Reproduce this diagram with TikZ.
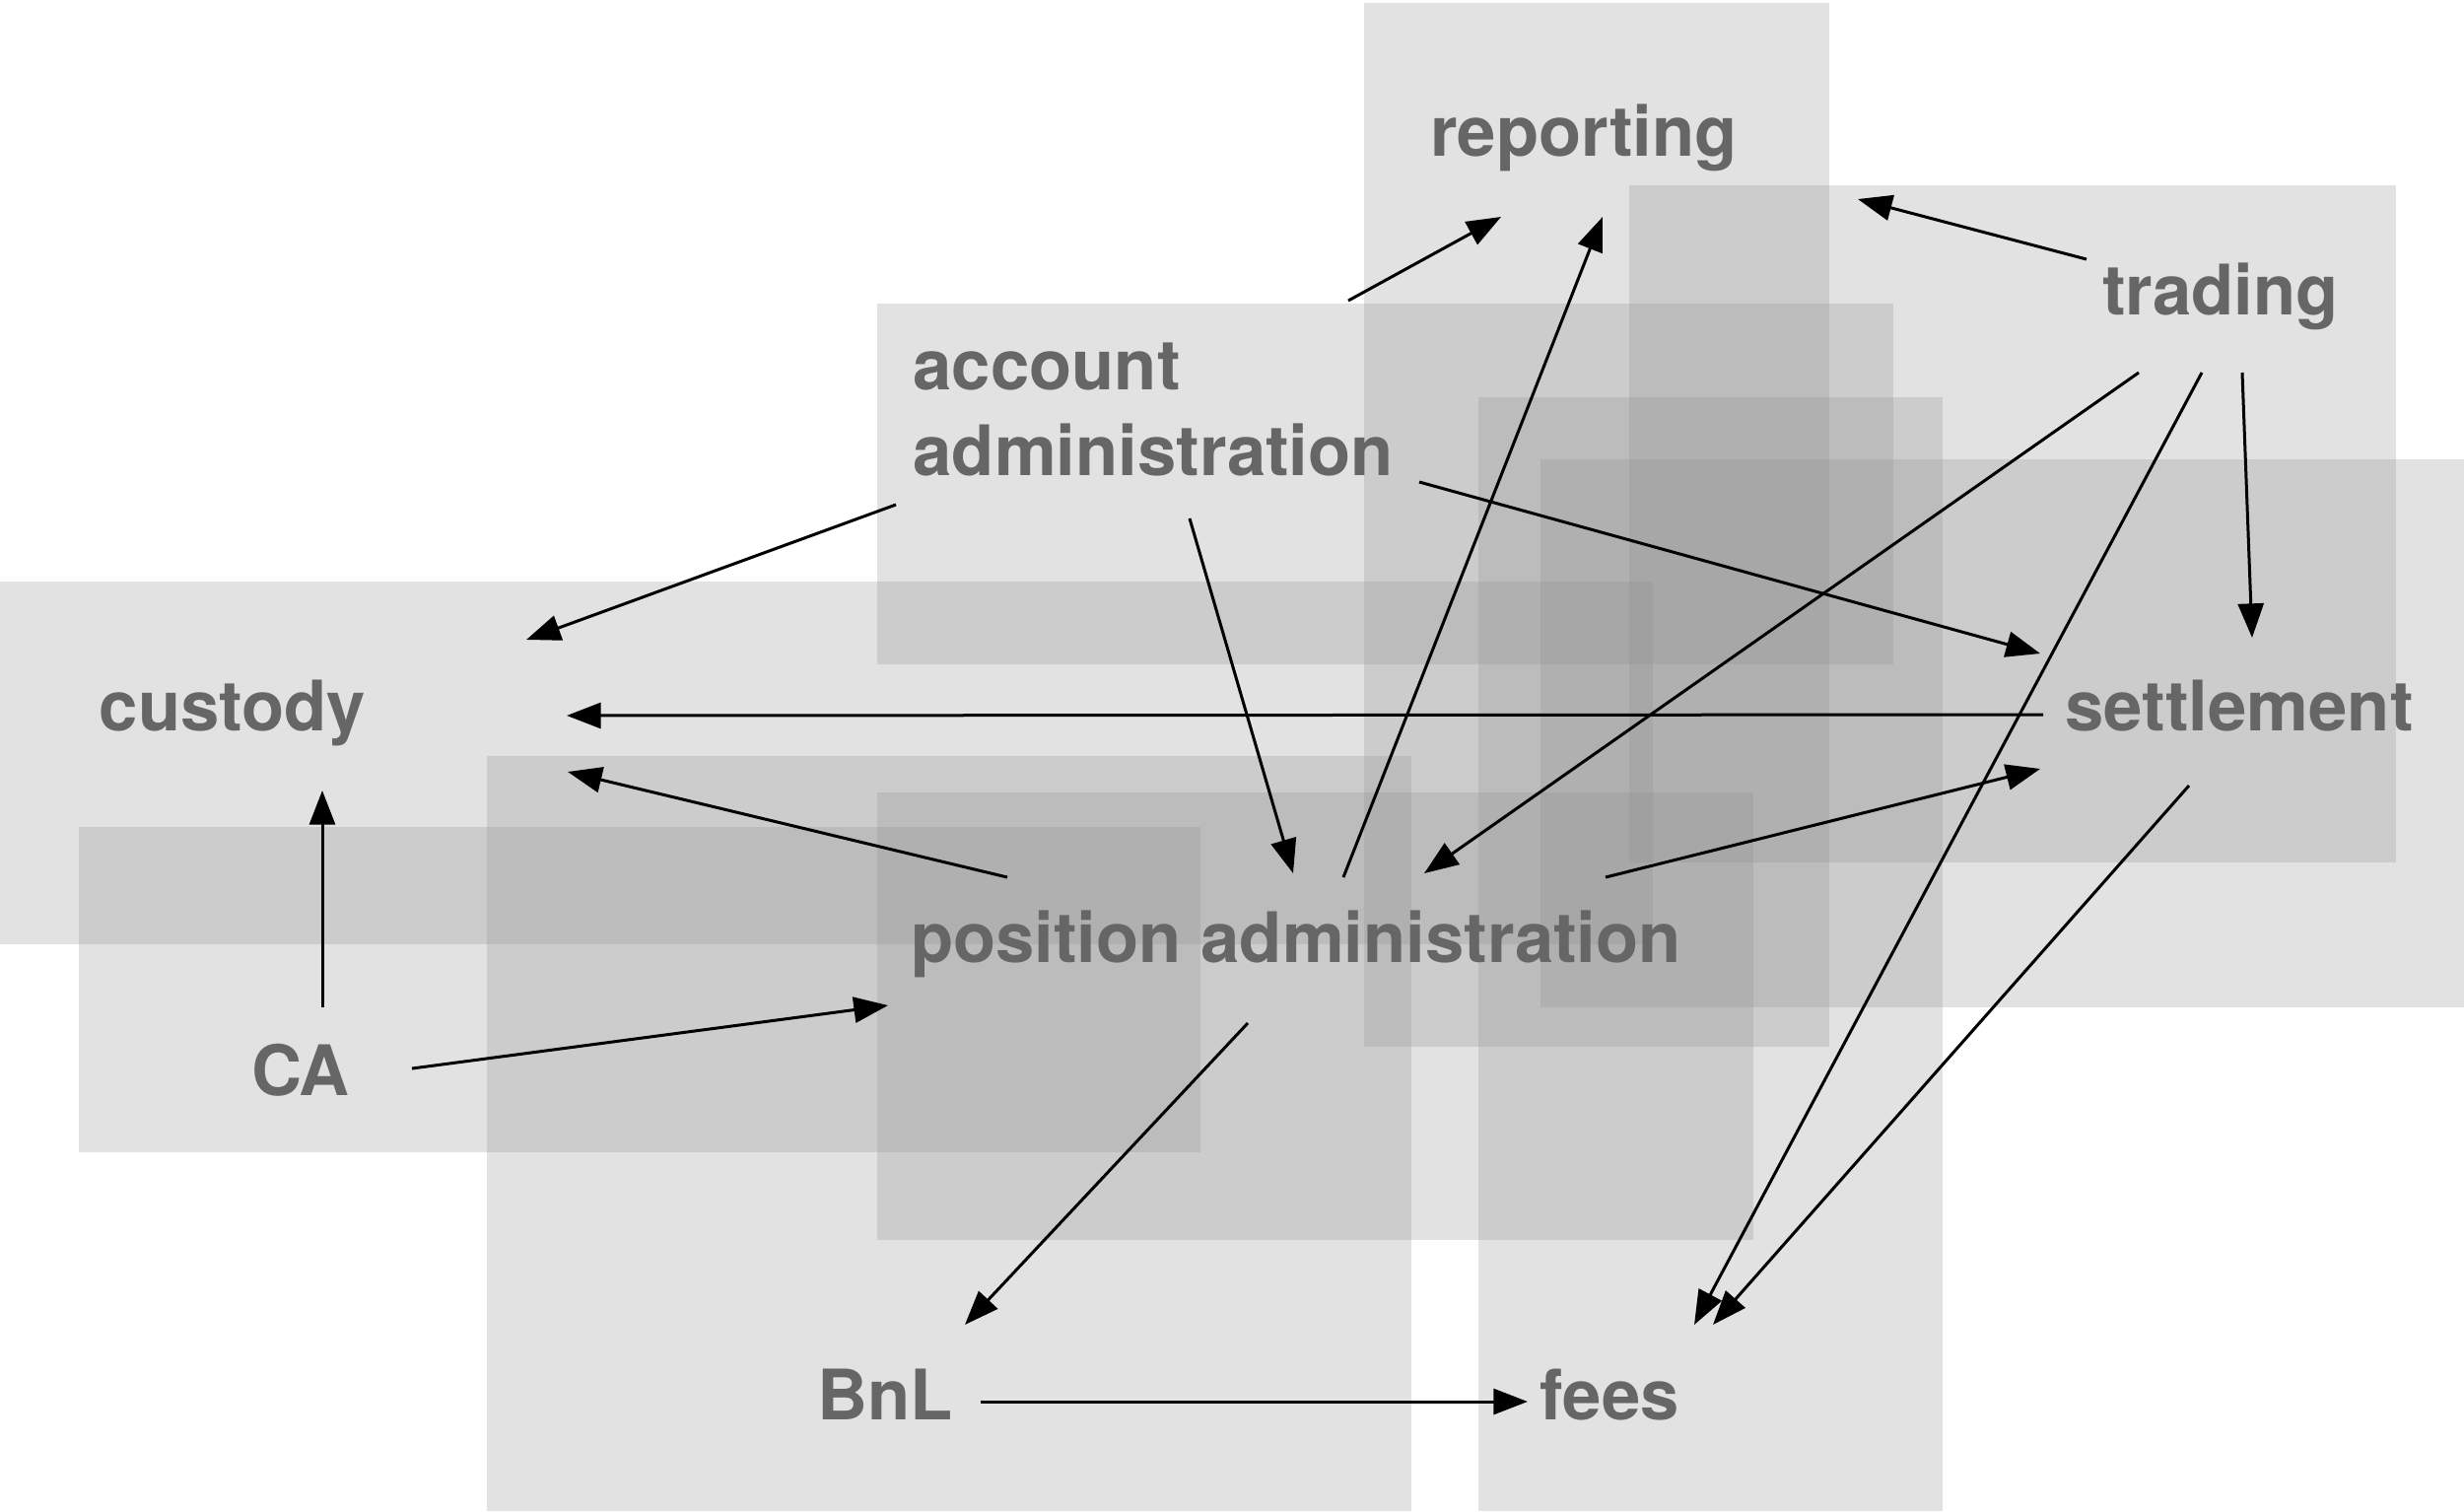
\documentclass[tikz,border=0pt]{standalone}
\usepackage{fontspec}
\setmainfont{TeX Gyre Heros}
\usetikzlibrary{arrows.meta}
\definecolor{lbl}{HTML}{666666}
\definecolor{boxg}{HTML}{8C8C8C}
\begin{document}
\begin{tikzpicture}[x=0.3pt,y=-0.3pt,
  area/.style={fill=boxg,fill opacity=0.25,draw=none},
  lab/.style={text=lbl,font=\bfseries\fontsize{21.2}{27}\selectfont,inner sep=0pt},
  conn/.style={draw=black,line width=0.9pt,-{Triangle[length=10.4pt,width=7.8pt]}}]
\useasboundingbox (0,0) rectangle (2500,1533);
% translucent areas
\fill[area] (1384,3) rectangle (1856,1062);   % reporting
\fill[area] (1653,188) rectangle (2431,875);  % trading
\fill[area] (890,308) rectangle (1921,674);   % account administration
\fill[area] (1500,403) rectangle (1971,1533); % fees
\fill[area] (1563,466) rectangle (2500,1022); % settlement
\fill[area] (0,590) rectangle (1677,958);     % custody
\fill[area] (890,804) rectangle (1779,1258);  % position administration
\fill[area] (494,767) rectangle (1432,1533);  % BnL
\fill[area] (80,839) rectangle (1218,1169);   % CA
% labels
\node[lab,anchor=base] (rep) at (1607,158) {reporting};
\node[lab,anchor=base] (trad) at (2253,319) {trading};
\node[lab,anchor=base west] (acc1) at (926,395) {account};
\node[lab,anchor=base west] (acc) at (926,482) {administration};
\node[lab,anchor=base] (cust) at (236,741) {custody};
\node[lab,anchor=base] (sett) at (2272,741) {settlement};
\node[lab,anchor=base] (pos) at (1315,976) {position administration};
\node[lab,anchor=base] (ca) at (305,1111) {CA};
\node[lab,anchor=base] (bnl) at (898,1440) {BnL};
\node[lab,anchor=base] (fees) at (1633,1440) {fees};
% connector end points
\coordinate (accA) at (1368,305);  \coordinate (repA) at (1523,220);
\coordinate (posA) at (1363,890);  \coordinate (repB) at (1626,220);
\coordinate (tradA) at (2117,263); \coordinate (repC) at (1885,202);
\coordinate (accB) at (909,512);   \coordinate (custA) at (534,649);
\coordinate (accC) at (1207,526);  \coordinate (posB) at (1312,886);
\coordinate (accD) at (1440,489);  \coordinate (settA) at (2070,663);
\coordinate (tradB) at (2170,378); \coordinate (posC) at (1445,886);
\coordinate (tradC) at (2234,378); \coordinate (feesA) at (1719,1344);
\coordinate (tradD) at (2275,378); \coordinate (settB) at (2285,647);
\coordinate (settC) at (2073,725); \coordinate (custB) at (575,726);
\coordinate (posD) at (1022,890);  \coordinate (custC) at (576,783);
\coordinate (posE) at (1629,890);  \coordinate (settD) at (2070,780);
\coordinate (settE) at (2221,797); \coordinate (feesB) at (1738,1344);
\coordinate (caA) at (327,1022);   \coordinate (custD) at (327,802);
\coordinate (caB) at (418,1084);   \coordinate (posF) at (901,1020);
\coordinate (posG) at (1266,1038); \coordinate (bnlA) at (979,1344);
\coordinate (bnlB) at (995,1422);  \coordinate (feesC) at (1550,1422);
% connectors
\draw[conn] (accA) -- (repA);
\draw[conn] (posA) -- (repB);
\draw[conn] (tradA) -- (repC);
\draw[conn] (accB) -- (custA);
\draw[conn] (accC) -- (posB);
\draw[conn] (accD) -- (settA);
\draw[conn] (tradB) -- (posC);
\draw[conn] (tradC) -- (feesA);
\draw[conn] (tradD) -- (settB);
\draw[conn] (settC) -- (custB);
\draw[conn] (posD) -- (custC);
\draw[conn] (posE) -- (settD);
\draw[conn] (settE) -- (feesB);
\draw[conn] (caA) -- (custD);
\draw[conn] (caB) -- (posF);
\draw[conn] (posG) -- (bnlA);
\draw[conn] (bnlB) -- (feesC);
\end{tikzpicture}
\end{document}
